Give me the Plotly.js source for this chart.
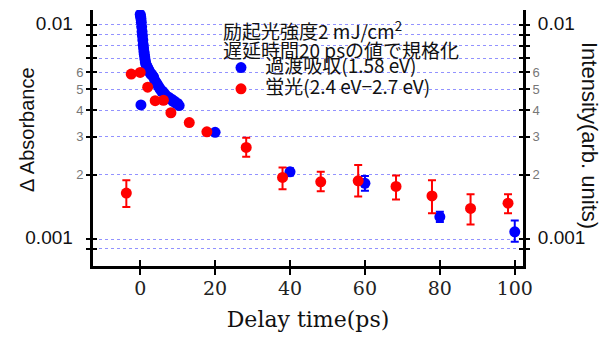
<!DOCTYPE html>
<html>
<head>
<meta charset="utf-8">
<script src="https://cdn.plot.ly/plotly-3.0.1.min.js"></script>
<style>html,body{margin:0;padding:0;background:#fff;}#chart{width:607px;height:338px;}</style>
</head>
<body>
<div id="chart"></div>
<script>
// ---- data ----
// Transient absorption (1.58 eV), dense early-time scan
const tAbsDense = [0.0, 0.1, 0.2, 0.3, 0.4, 0.5, 0.6, 0.7, 0.8, 0.9, 1.0, 1.1, 1.2, 1.3, 1.4, 1.5, 1.6, 1.8,
  2.0, 2.2, 2.4, 2.6, 2.8, 3.0, 3.3, 3.6, 3.9, 4.2, 4.5, 4.8, 5.1, 5.4, 5.7, 6.0, 6.4, 6.8, 7.2, 7.6,
  8.0, 8.4, 8.8, 9.2, 9.6, 10.0, 10.4];
const absDense = [0.0112, 0.0110, 0.0107, 0.0103, 0.0098, 0.0093, 0.0089, 0.0085, 0.0081, 0.0078, 0.0075,
  0.0073, 0.0071, 0.0069, 0.0067, 0.0066, 0.0065, 0.0064, 0.0063, 0.0062, 0.0061, 0.0060, 0.0059, 0.0059,
  0.0058, 0.0057, 0.0055, 0.0054, 0.0053, 0.0052, 0.0051, 0.0050, 0.0049, 0.0049, 0.0048, 0.0047, 0.0046,
  0.0046, 0.0045, 0.0045, 0.0044, 0.0044, 0.0043, 0.0043, 0.0042];
// Transient absorption, sparse points with error bars
const tAbs = [0.2, 20, 40, 60, 80, 100];
const absVal = [0.00423, 0.00315, 0.00206, 0.00182, 0.00127, 0.00108];
const absErrPlus = [0, 0, 0.00008, 0.00015, 0.00007, 0.00014];
const absErrMinus = [0, 0, 0.00008, 0.00014, 0.00007, 0.00011];
// Fluorescence (2.4 eV - 2.7 eV)
const tFl = [-3.7, -2.4, 0, 2, 4, 6.2, 8.2, 13.1, 17.8, 28.3, 38.0, 48.2, 58.2, 68.3, 77.9, 88.2, 98.2];
const flVal = [0.00164, 0.00590, 0.00600, 0.00512, 0.00443, 0.00445, 0.00389, 0.00350, 0.00317, 0.00268,
  0.00194, 0.00185, 0.00187, 0.00176, 0.00159, 0.00139, 0.00147];
const flErrPlus = [0.00024, 0, 0, 0, 0, 0, 0, 0, 0, 0.00029, 0.00022, 0.00021, 0.00035, 0.00022, 0.00029, 0.00023, 0.00015];
const flErrMinus = [0.00023, 0, 0, 0, 0, 0, 0, 0, 0, 0.00026, 0.00023, 0.00018, 0.00029, 0.00023, 0.00027, 0.00022, 0.00015];
// Axis ticks
const xTicks = [0, 20, 40, 60, 80, 100];
const yTickVals = [0.0009, 0.001, 0.002, 0.003, 0.004, 0.005, 0.006, 0.007, 0.008, 0.009, 0.01];
const yTickLabels = ['', '0.001', '2', '3', '4', '5', '6', '', '', '', '0.01'];
const noteLines = ['励起光強度2 mJ/cm<sup>2</sup>', '遅延時間20 psの値で規格化'];
const nameAbs = '過渡吸収(1.58 eV)';
const nameFl = '蛍光(2.4 eV−2.7 eV)';

// ---- build ----
const BIG = s => '<span style="font-size:19px;fill:#111">' + s + '</span>';
const LEG = s => '<span style="font-size:19px">\u00a0' + s + '</span>';
const leftText = yTickLabels.map(s => s.indexOf('0.0') === 0 ? BIG(s + '\u00a0\u00a0') : s);
const rightText = yTickLabels.map(s => s.indexOf('0.0') === 0 ? BIG('\u00a0' + s) : s);
const yRange = [Math.log10(0.000748), Math.log10(0.01175)];
const xRange = [-12.6, 102.2];
const PX = px => (px - 93) / 430;   // page px -> paper x
const PY = py => (266 - py) / 256;  // page px -> paper y

const blue = '#0000ff', red = '#ff0000';
const traces = [
  {
    x: tAbsDense.concat(tAbs), y: absDense.concat(absVal),
    type: 'scatter', mode: 'markers', name: LEG(nameAbs),
    marker: {color: blue, size: 11},
    error_y: {type: 'data', symmetric: false,
      array: tAbsDense.map(() => 0).concat(absErrPlus),
      arrayminus: tAbsDense.map(() => 0).concat(absErrMinus),
      color: blue, thickness: 2, width: 4},
    xaxis: 'x', yaxis: 'y'
  },
  {
    x: tFl, y: flVal, type: 'scatter', mode: 'markers', name: LEG(nameFl),
    marker: {color: red, size: 11},
    error_y: {type: 'data', symmetric: false, array: flErrPlus, arrayminus: flErrMinus,
      color: red, thickness: 2, width: 4},
    xaxis: 'x', yaxis: 'y2'
  },
  {x: [], y: [], xaxis: 'x2', yaxis: 'y3', showlegend: false, hoverinfo: 'skip'},
  {x: [], y: [], xaxis: 'x2', yaxis: 'y4', showlegend: false, hoverinfo: 'skip'}
];

const cjk = 'Noto Sans CJK JP, sans-serif';
const sans = 'Liberation Sans, Arial, sans-serif';
const tickFontSans = {family: sans, size: 13, color: '#777'};
const yCommon = {
  type: 'log', range: yRange, autorange: false, fixedrange: true,
  tickmode: 'array', tickvals: yTickVals,
  showline: true, linecolor: '#000', linewidth: 3,
  ticks: 'outside', ticklen: 4, tickwidth: 2, tickcolor: '#000',
  tickfont: tickFontSans, zeroline: false
};
const layout = {
  width: 607, height: 338,
  margin: {l: 93, r: 84, t: 10, b: 72},
  paper_bgcolor: '#fff', plot_bgcolor: '#fff',
  showlegend: true,
  legend: {
    x: PX(221), y: PY(52), xanchor: 'left', yanchor: 'top',
    bgcolor: 'rgba(0,0,0,0)', borderwidth: 0,
    font: {family: cjk, size: 14, color: '#111'},
    tracegroupgap: 0, itemwidth: 30
  },
  xaxis: {
    range: xRange, autorange: false, fixedrange: true,
    tickmode: 'array', tickvals: xTicks, ticktext: xTicks.map(String),
    showline: true, linecolor: '#000', linewidth: 3,
    ticks: 'outside', ticklen: 6, tickwidth: 2, tickcolor: '#000',
    tickfont: {family: 'DejaVu Serif, serif', size: 19, color: '#222'},
    ticklabelstandoff: -3,
    showgrid: false, zeroline: false,
    title: {text: 'Delay time(ps)', font: {family: 'DejaVu Serif, serif', size: 22, color: '#111'}, standoff: 14},
    automargin: false
  },
  xaxis2: {
    overlaying: 'x', anchor: 'y', range: xRange, autorange: false, fixedrange: true,
    tickmode: 'array', tickvals: xTicks, showticklabels: false,
    ticks: 'inside', ticklen: 6, tickwidth: 2, tickcolor: '#000',
    showline: false, showgrid: false, zeroline: false
  },
  yaxis: Object.assign({}, yCommon, {
    side: 'left', ticktext: leftText,
    showgrid: true, gridcolor: 'rgba(110,110,255,0.75)', gridwidth: 1, griddash: 'dot',
    automargin: false
  }),
  yaxis2: Object.assign({}, yCommon, {
    side: 'right', overlaying: 'y', anchor: 'x', ticktext: rightText, showgrid: false
  }),
  yaxis3: Object.assign({}, yCommon, {
    side: 'left', overlaying: 'y', anchor: 'x2', showticklabels: false, showline: false,
    ticks: 'inside', showgrid: false
  }),
  yaxis4: Object.assign({}, yCommon, {
    side: 'right', overlaying: 'y', anchor: 'x2', showticklabels: false, showline: false,
    ticks: 'inside', showgrid: false
  }),
  annotations: [
    {
      text: 'Δ Absorbance', textangle: -90,
      xref: 'paper', yref: 'paper', x: PX(27), y: PY(130),
      xanchor: 'center', yanchor: 'middle', showarrow: false,
      font: {family: sans, size: 20, color: '#111'}
    },
    {
      text: 'Intensity(arb. units)', textangle: 90,
      xref: 'paper', yref: 'paper', x: PX(590), y: PY(135),
      xanchor: 'center', yanchor: 'middle', showarrow: false,
      font: {family: sans, size: 22, color: '#111'}
    },
    {
      text: noteLines[0], xref: 'paper', yref: 'paper', x: PX(221), y: PY(30),
      xanchor: 'left', yanchor: 'middle', showarrow: false,
      font: {family: cjk, size: 19, color: '#111'}
    },
    {
      text: noteLines[1], xref: 'paper', yref: 'paper', x: PX(221), y: PY(49),
      xanchor: 'left', yanchor: 'middle', showarrow: false,
      font: {family: cjk, size: 19, color: '#111'}
    }
  ]
};

Plotly.newPlot('chart', traces, layout, {staticPlot: true, displayModeBar: false});
</script>
</body>
</html>
